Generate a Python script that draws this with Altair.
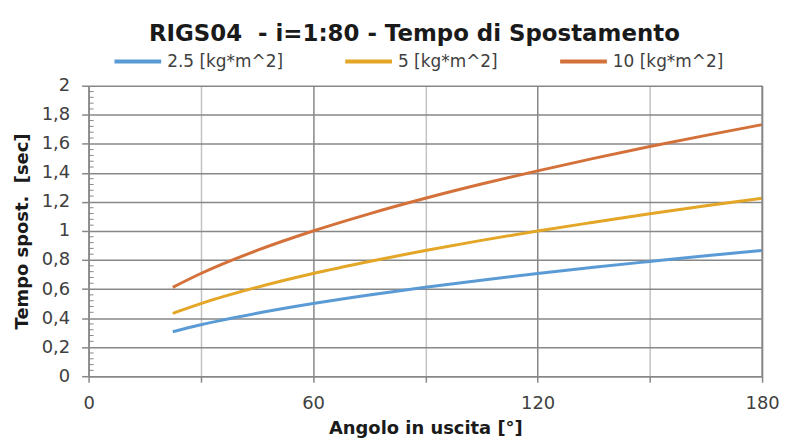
import altair as alt
import pandas as pd

angles = [22.5, 30, 45, 60, 75, 90, 105, 120, 135, 150, 165, 180]
t_25 = [0.306, 0.354, 0.433, 0.500, 0.559, 0.612, 0.661, 0.707, 0.750, 0.790, 0.829, 0.866]
t_5 = [0.433, 0.500, 0.612, 0.707, 0.790, 0.866, 0.935, 1.000, 1.060, 1.118, 1.173, 1.225]
t_10 = [0.612, 0.707, 0.866, 1.000, 1.118, 1.225, 1.323, 1.414, 1.500, 1.581, 1.658, 1.732]
series_names = ["2.5 [kg*m^2]", "5 [kg*m^2]", "10 [kg*m^2]"]
colors = ["#5B9BD5", "#E3A626", "#D4713A"]
x_ticks = [0, 30, 60, 90, 120, 150, 180]
y_ticks = [0, 0.2, 0.4, 0.6, 0.8, 1.0, 1.2, 1.4, 1.6, 1.8, 2.0]
y_minor = [round(i * 0.04, 2) for i in range(51) if i % 5 != 0]

rows = []
for name, vals in zip(series_names, [t_25, t_5, t_10]):
    for a, v in zip(angles, vals):
        rows.append({"Angolo": a, "Tempo": v, "Serie": name})
df = pd.DataFrame(rows)
minor_df = pd.DataFrame({"Tempo": y_minor})
border_df = pd.DataFrame({"Angolo": [180]})

FONT = "DejaVu Sans"
DARK = "#878787"
LIGHT = "#C3C3C3"

x_scale = alt.Scale(domain=[0, 180], nice=False)
y_scale = alt.Scale(domain=[0, 2], nice=False)

x_axis = alt.Axis(values=x_ticks, title="Angolo in uscita [°]",
                  labelExpr="datum.value % 60 == 0 ? datum.value : ''",
                  gridColor={"condition": {"test": "datum.value % 60 == 0", "value": DARK}, "value": LIGHT},
                  gridWidth=1.5, domainColor=DARK, domainWidth=1.5, tickColor=DARK, tickSize=6,
                  tickWidth=1.5, labelPadding=12, titlePadding=8, labelOverlap=False, labelFlush=False)
y_axis = alt.Axis(values=y_ticks, title="Tempo spost.\u00a0 [sec]",
                  labelExpr="replace(format(datum.value, '.1~f'), '.', ',')",
                  gridColor=DARK, gridWidth=1.5, domainColor=DARK, domainWidth=1.5,
                  tickColor=DARK, tickWidth=1.5, labelOverlap=False, labelFlush=False,
                  tickSize=7, labelPadding=12, titlePadding=10)

lines = alt.Chart(df).mark_line(strokeWidth=3, interpolate="monotone").encode(
    x=alt.X("Angolo:Q", scale=x_scale, axis=x_axis),
    y=alt.Y("Tempo:Q", scale=y_scale, axis=y_axis),
    color=alt.Color("Serie:N", sort=series_names,
                    scale=alt.Scale(domain=series_names, range=colors),
                    legend=alt.Legend(orient="none", legendX=24, legendY=-50, direction="horizontal",
                                      title=None, symbolType="stroke", symbolSize=2209,
                                      symbolStrokeWidth=4, columnPadding=54, labelOffset=4)),
)

minor = alt.Chart(minor_df).mark_rule(color=DARK, strokeWidth=1).encode(
    y=alt.Y("Tempo:Q", scale=y_scale, axis=y_axis),
    x=alt.value(0), x2=alt.value(5),
)

right_border = alt.Chart(border_df).mark_rule(color=DARK, strokeWidth=1.5).encode(
    x=alt.X("Angolo:Q", scale=x_scale, axis=x_axis),
)

chart = alt.layer(lines, minor, right_border).properties(
    width=677, height=292,
    title=alt.TitleParams("RIGS04\u00a0\u00a0- i=1:80 - Tempo di Spostamento", fontSize=23, fontWeight="bold",
                          font=FONT, color="#1a1a1a", anchor="middle", offset=-10, dx=-11),
    autosize=alt.AutoSizeParams(type="none"),
    padding={"left": 81, "top": 77, "right": 17, "bottom": 62},
).configure_view(stroke=None).configure_axis(
    labelFont=FONT, titleFont=FONT, labelFontSize=18, titleFontSize=18, titleFontWeight="bold",
    labelColor="#404040", titleColor="#1a1a1a",
).configure_legend(labelFont=FONT, labelFontSize=17, labelColor="#404040")

chart.save("out.html", embed_options={"renderer": "svg", "actions": False})
